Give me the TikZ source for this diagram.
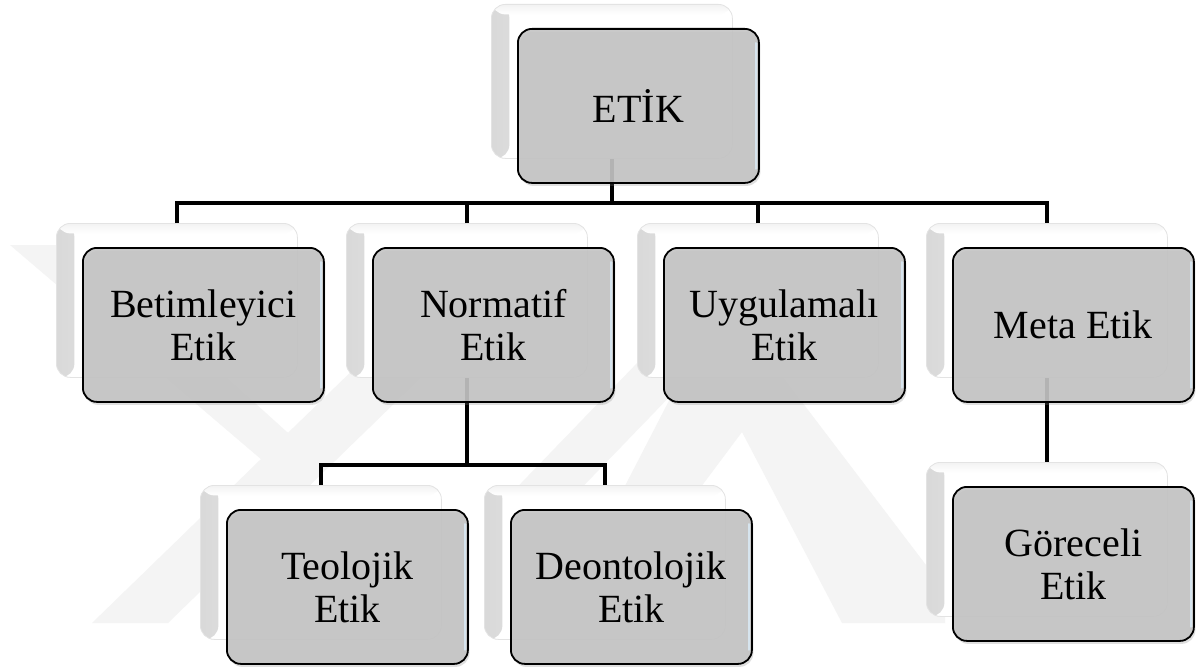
\documentclass[tikz,border=0pt]{standalone}
\usepackage{fontspec}
\setmainfont{Liberation Serif}
\usetikzlibrary{shadows,calc}
\definecolor{boxgray}{RGB}{196,196,196}
\definecolor{wm}{RGB}{244,244,244}
\definecolor{gloss}{RGB}{214,228,238}
\begin{document}
\begin{tikzpicture}[x=1pt,y=-1pt,
  frontbox/.style={draw=black, line width=1.8pt, fill=boxgray, fill opacity=0.9, text opacity=1,
    rounded corners=14pt, minimum width=241pt, minimum height=154pt, inner sep=0pt,
    align=center, font=\fontsize{40}{43}\selectfont, anchor=north west,
    drop shadow={shadow xshift=1.5pt, shadow yshift=-3pt, opacity=0.25},
    path picture={\draw[gloss, line width=1.6pt, line cap=round]
      ([shift={(-3pt,-14pt)}]path picture bounding box.north east) --
      ([shift={(-3pt,14pt)}]path picture bounding box.south east);}},
  backbox/.style={draw=gray!22, line width=0.8pt, fill=white,
    rounded corners=14pt, minimum width=241pt, minimum height=154pt, inner sep=0pt,
    anchor=north west,
    path picture={\shade[left color=gray!30, right color=white]
      (path picture bounding box.north west) rectangle
      ([xshift=18pt]path picture bounding box.south west);
      \shade[top color=gray!10, bottom color=white]
      (path picture bounding box.north west) rectangle
      ([yshift=-10pt]path picture bounding box.north east);}},
  conn/.style={line width=4.5pt, line join=miter, line cap=butt}]

\useasboundingbox (0,0) rectangle (1201,669);
\fill[white] (0,0) rectangle (1201,669);

% faint watermark
\fill[wm] (10,245) -- (80,245) -- (318,460) -- (262,460) -- cycle;
\fill[wm] (92,623) -- (168,623) -- (470,330) -- (394,330) -- cycle;
\fill[wm] (500,505) -- (565,505) -- (705,360) -- (640,360) -- cycle;
\fill[wm] (690,360) -- (770,360) -- (945,590) -- (945,623) -- (842,623) -- (742,432) -- (680,515) -- (610,515) -- cycle;

% back boxes
\node[backbox] (etikB) at (491,4) {};
\node[backbox] (betB) at (56,223) {};
\node[backbox] (norB) at (346,223) {};
\node[backbox] (uygB) at (637,223) {};
\node[backbox] (metB) at (926,223) {};
\node[backbox] (teoB) at (200,485) {};
\node[backbox] (deoB) at (484,485) {};
\node[backbox] (gorB) at (926,462) {};

% connectors
\coordinate (busA) at (0,203);
\coordinate (busB) at (0,465);
\draw[conn] (etikB.south) -- (etikB.south |- busA);
\draw[conn] (betB.north) -- (betB.north |- busA) -- (metB.north |- busA) -- (metB.north);
\draw[conn] (norB.north) -- (norB.north |- busA);
\draw[conn] (uygB.north) -- (uygB.north |- busA);
\draw[conn] (norB.south) -- (norB.south |- busB);
\draw[conn] (teoB.north) -- (teoB.north |- busB) -- (deoB.north |- busB) -- (deoB.north);
\draw[conn] (metB.south) -- (gorB.north);

% front boxes
\node[frontbox] (etik) at (517,28) {ETİK};
\node[frontbox] (bet) at (82,247) {Betimleyici\\Etik};
\node[frontbox] (nor) at (372,247) {Normatif\\Etik};
\node[frontbox] (uyg) at (663,247) {Uygulamalı\\Etik};
\node[frontbox] (met) at (952,247) {Meta Etik};
\node[frontbox] (teo) at (226,509) {Teolojik\\Etik};
\node[frontbox] (deo) at (510,509) {Deontolojik\\Etik};
\node[frontbox] (gor) at (952,486) {Göreceli\\Etik};
\end{tikzpicture}
\end{document}
